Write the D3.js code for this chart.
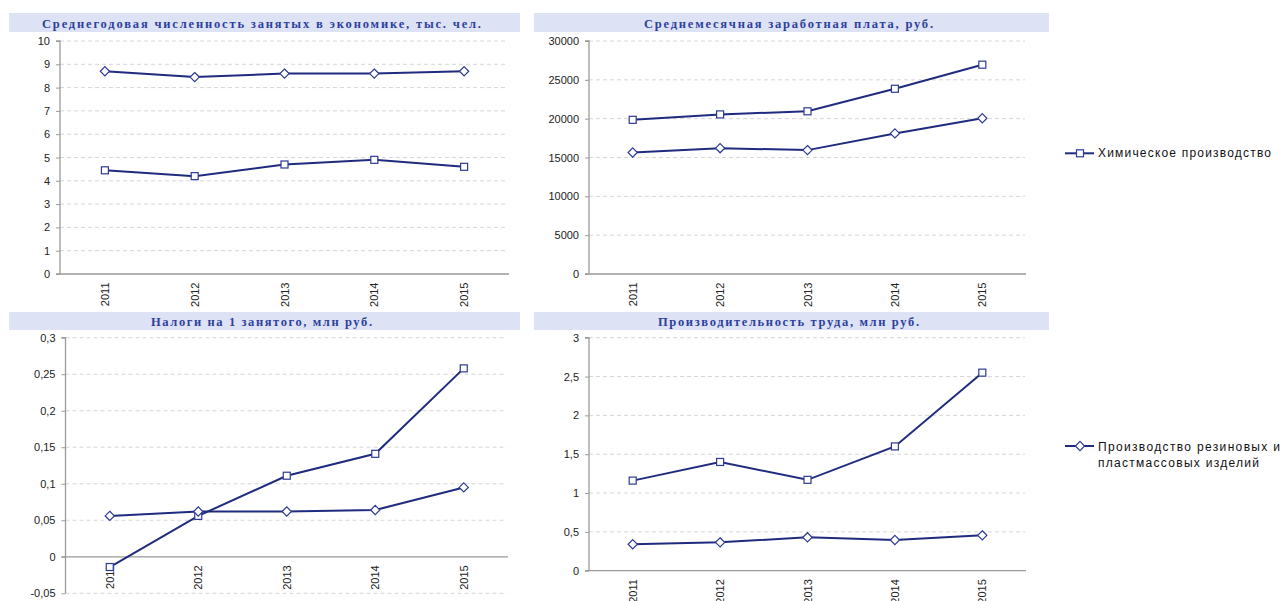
<!DOCTYPE html>
<html><head><meta charset="utf-8">
<script src="https://cdn.jsdelivr.net/npm/d3@7"></script>
<style>
html,body{margin:0;padding:0;background:#fff;}
svg{display:block;}
</style></head>
<body>
<svg id="c" width="1282" height="601"></svg>
<script>
const years = ["2011","2012","2013","2014","2015"];
const seriesNames = ["Химическое  производство", "Производство  резиновых  и", "пластмассовых  изделий"];
const titles = [
  "Среднегодовая численность занятых в экономике, тыс. чел.",
  "Среднемесячная заработная плата, руб.",
  "Налоги на 1 занятого, млн руб.",
  "Производительность труда, млн руб."
];
const chemEmployment   = [4.45, 4.2, 4.7, 4.9, 4.6];
const rubberEmployment = [8.7, 8.45, 8.6, 8.6, 8.7];
const chemWage   = [19850, 20550, 20950, 23850, 26950];
const rubberWage = [15650, 16200, 15950, 18100, 20050];
const chemTax   = [-0.014, 0.056, 0.111, 0.141, 0.258];
const rubberTax = [0.056, 0.062, 0.062, 0.064, 0.095];
const chemProd   = [1.16, 1.40, 1.17, 1.60, 2.55];
const rubberProd = [0.34, 0.365, 0.43, 0.395, 0.455];
const ticksEmployment = [0,1,2,3,4,5,6,7,8,9,10];
const ticksWage = [0,5000,10000,15000,20000,25000,30000];
const ticksTax = [-0.05,0,0.05,0.1,0.15,0.2,0.25,0.3];
const ticksProd = [0,0.5,1,1.5,2,2.5,3];

const svg = d3.select("#c");
const lineColor = "#1f2b7e", markColor = "#2c3a94";
const fmt = v => String(+v.toFixed(4)).replace(".", ",");

const panels = [
  {title: titles[0], band:[9,520,13,32], x:[60,509], y:[274,41], dom:[0,10], ticks:ticksEmployment, sq:chemEmployment, di:rubberEmployment, tw:439},
  {title: titles[1], band:[534,1049,13,32], x:[589,1026], y:[274,41], dom:[0,30000], ticks:ticksWage, sq:chemWage, di:rubberWage, tw:289},
  {title: titles[2], band:[9,520,312,330], x:[65.5,508], y:[593.3,337.7], dom:[-0.05,0.3], ticks:ticksTax, sq:chemTax, di:rubberTax, tw:221},
  {title: titles[3], band:[534,1049,312,330], x:[589,1026], y:[570.7,337.7], dom:[0,3], ticks:ticksProd, sq:chemProd, di:rubberProd, tw:261}
];

function square(g, x, y){
  g.append("rect").attr("x", x-3.5).attr("y", y-3.5).attr("width",7).attr("height",7)
   .attr("fill","#fff").attr("stroke",markColor).attr("stroke-width",1.2);
}
function diamond(g, x, y){
  const r = 4.6;
  g.append("path").attr("d", `M${x},${y-r}L${x+r},${y}L${x},${y+r}L${x-r},${y}Z`)
   .attr("fill","#fff").attr("stroke",markColor).attr("stroke-width",1.2);
}

panels.forEach(p => {
  const g = svg.append("g");
  // title band
  g.append("rect").attr("x",p.band[0]).attr("y",p.band[2]).attr("width",p.band[1]-p.band[0]).attr("height",p.band[3]-p.band[2]).attr("fill","#dde3f4");
  g.append("text").attr("x",(p.band[0]+p.band[1])/2 - 3).attr("y",p.band[3]-4.5)
   .attr("text-anchor","middle").attr("font-family","'Liberation Serif','Times New Roman',serif")
   .attr("font-weight","bold").attr("font-size","12.5px").attr("fill","#2e3f9e")
   .attr("textLength",p.tw).attr("lengthAdjust","spacing").text(p.title);

  const x = d3.scalePoint().domain(years).range(p.x).padding(0.5);
  const y = d3.scaleLinear().domain(p.dom).range(p.y);

  // gridlines
  g.append("g").selectAll("line").data(p.ticks.filter(t => t !== 0)).join("line")
   .attr("x1",p.x[0]).attr("x2",p.x[1]-1).attr("y1",d=>y(d)).attr("y2",d=>y(d))
   .attr("stroke","#d6d6d6").attr("stroke-width",1).attr("stroke-dasharray","4,3");

  // y axis
  const ya = g.append("g").attr("transform",`translate(${p.x[0]},0)`)
   .call(d3.axisLeft(y).tickValues(p.ticks).tickFormat(fmt).tickSize(4).tickPadding(6));
  ya.select(".domain").attr("stroke","#9a9a9a").attr("stroke-width",1.3).attr("d",`M-4,${p.y[1]}H0V${p.y[0]}`);
  ya.selectAll(".tick line").attr("stroke","#9a9a9a");
  ya.selectAll(".tick text").attr("font-family","'Liberation Sans',Arial,sans-serif").attr("font-size","11px").attr("fill","#222");

  // x axis at zero
  const y0 = y(0);
  g.append("line").attr("x1",p.x[0]-4).attr("x2",p.x[1]).attr("y1",y0).attr("y2",y0)
   .attr("stroke","#9a9a9a").attr("stroke-width",1.3);
  g.append("g").selectAll("text").data(years).join("text")
   .attr("transform",d=>`translate(${x(d)+4},${y0+8.5}) rotate(-90)`)
   .attr("text-anchor","end").attr("font-family","'Liberation Sans',Arial,sans-serif")
   .attr("font-size","11px").attr("fill","#222").text(d=>d);

  // lines
  const line = d3.line().x((d,i)=>x(years[i])).y(d=>y(d));
  [p.sq, p.di].forEach(s => {
    g.append("path").attr("d", line(s)).attr("fill","none").attr("stroke",lineColor).attr("stroke-width",2);
  });
  p.sq.forEach((v,i)=>square(g, x(years[i]), y(v)));
  p.di.forEach((v,i)=>diamond(g, x(years[i]), y(v)));
});

// legend
const lg = svg.append("g");
const lf = "'Liberation Sans',Arial,sans-serif";
lg.append("line").attr("x1",1065).attr("x2",1094).attr("y1",153.3).attr("y2",153.3).attr("stroke",lineColor).attr("stroke-width",2);
square(lg, 1080, 153.3);
lg.append("text").attr("x",1098).attr("y",157).attr("font-family",lf).attr("font-size","12px").attr("fill","#111")
  .attr("textLength",173).attr("lengthAdjust","spacing").text(seriesNames[0]);
lg.append("line").attr("x1",1065).attr("x2",1094).attr("y1",446).attr("y2",446).attr("stroke",lineColor).attr("stroke-width",2);
diamond(lg, 1080, 446);
lg.append("text").attr("x",1098).attr("y",450.5).attr("font-family",lf).attr("font-size","12px").attr("fill","#111")
  .attr("textLength",182).attr("lengthAdjust","spacing").text(seriesNames[1]);
lg.append("text").attr("x",1098).attr("y",467).attr("font-family",lf).attr("font-size","12px").attr("fill","#111")
  .attr("textLength",161).attr("lengthAdjust","spacing").text(seriesNames[2]);
</script>
</body></html>
